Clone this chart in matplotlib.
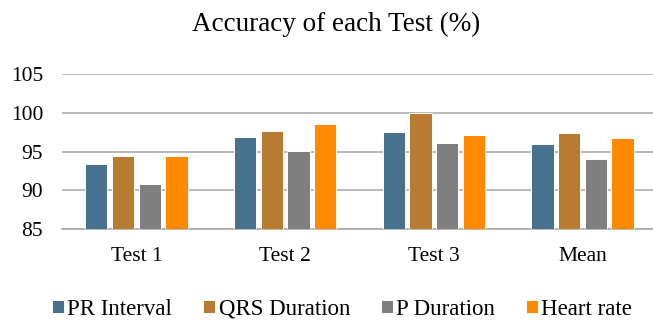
import numpy as np
import matplotlib.pyplot as plt

plt.rcParams['font.family'] = ['Liberation Serif', 'DejaVu Serif']

tests = ["Test 1", "Test 2", "Test 3", "Mean"]
series = ["PR Interval", "QRS Duration", "P Duration", "Heart rate"]
pr_interval = [93.45, 96.86, 97.54, 95.95]
qrs_duration = [94.4, 97.67, 100.0, 97.37]
p_duration = [90.8, 95.13, 96.12, 94.06]
heart_rate = [94.5, 98.57, 97.19, 96.77]
colors = ["#46728E", "#B77B31", "#7F7F7F", "#FF8A00"]
yticks = [85, 90, 95, 100, 105]


def main():
    fig = plt.figure(figsize=(6.53, 3.2), dpi=100)
    ax = fig.add_axes([0.0949, 0.2834, 0.911, 0.4856])

    x = np.arange(len(tests))
    step = 0.1796
    width = 0.15
    values = [pr_interval, qrs_duration, p_duration, heart_rate]
    for i, (name, vals) in enumerate(zip(series, values)):
        ax.bar(x + (i - 1.5) * step, np.array(vals) - 85, bottom=85, width=width,
               color=colors[i], edgecolor="white", linewidth=0.7, label=name, zorder=3)

    ax.set_xlim(-0.5, len(tests) - 0.5)
    ax.set_ylim(85, 105)
    ax.set_yticks(yticks)
    ax.set_xticks(x)
    ax.set_xticklabels(tests, fontsize=15.5)
    ax.tick_params(axis="y", labelsize=15.5, length=0, pad=13.5)
    ax.tick_params(axis="x", length=0, pad=13)
    ax.grid(axis="y", color="#A6A6A6", linewidth=1.1, zorder=0)
    for s in ["top", "right", "left"]:
        ax.spines[s].set_visible(False)
    ax.spines["bottom"].set_color("#A6A6A6")
    ax.spines["bottom"].set_linewidth(1.1)

    fig.text(0.515, 0.925, "Accuracy of each Test (%)", fontsize=19.5,
             ha="center", va="center")

    fig.legend(loc="center", bbox_to_anchor=(0.524, 0.033), ncol=4, frameon=False,
               fontsize=16.5, handlelength=0.52, handleheight=0.52,
               handletextpad=0.15, columnspacing=1.35, borderpad=0, borderaxespad=0)

    fig.savefig("out.png", dpi=100)


if __name__ == "__main__":
    main()
